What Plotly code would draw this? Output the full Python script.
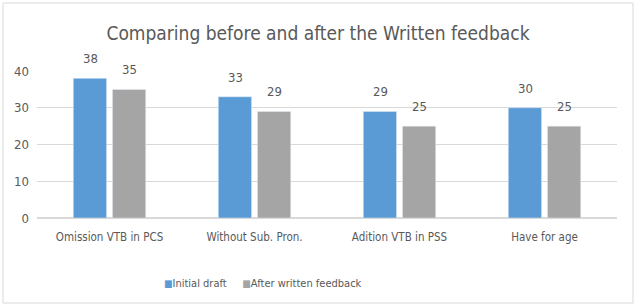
import plotly.graph_objects as go

categories = ["Omission VTB in PCS", "Without Sub. Pron.", "Adition VTB in PSS", "Have for age"]
initial_draft = [38, 33, 29, 30]
after_feedback = [35, 29, 25, 25]
series_names = ["Initial draft", "After written feedback"]
series_colors = ["#5B9BD5", "#A5A5A5"]

FONT = "DejaVu Sans Condensed, Liberation Sans Narrow, sans-serif"
TXT = "#595959"

fig = go.Figure()
for name, vals, col in zip(series_names, (initial_draft, after_feedback), series_colors):
    fig.add_trace(go.Bar(name=name, x=categories, y=vals, marker_color=col, showlegend=False))

for vals, shift in ((initial_draft, -19.5), (after_feedback, 19.5)):
    for c, v in zip(categories, vals):
        fig.add_annotation(x=c, y=v, xshift=shift, yshift=10, text=str(v),
                           showarrow=False, yanchor="bottom",
                           font=dict(size=13, color=TXT, family=FONT))

pl, pr, pt, pb = 37, 617, 71, 218
W, H = 637, 308
pw, ph = pr - pl, pb - pt

def px(x):
    return (x - pl) / pw

def py(y):
    return (pb - y) / ph

legend_text = "&nbsp;&nbsp;&nbsp;&nbsp;&nbsp;".join(
    f"<span style='color:{c};font-size:10px'>■</span>{n}" for n, c in zip(series_names, series_colors))
fig.add_annotation(xref="paper", yref="paper", x=px(263), y=py(283), text=legend_text,
                   showarrow=False, xanchor="center", yanchor="middle",
                   font=dict(size=11, color=TXT, family=FONT))

fig.update_layout(
    width=W, height=H,
    margin=dict(l=pl, r=W - pr, t=pt, b=H - pb),
    paper_bgcolor="white", plot_bgcolor="white",
    font=dict(family=FONT, color=TXT, size=13),
    title=dict(text="Comparing before and after the Written feedback",
               xref="container", x=318 / W, xanchor="center", y=1 - 33 / H, yanchor="middle",
               font=dict(size=19, color=TXT, family=FONT)),
    barmode="group", bargap=0.46, bargroupgap=0.15,
    showlegend=False,
)
fig.update_xaxes(showgrid=False, showline=True, linecolor="#D9D9D9", ticks="",
                 tickfont=dict(size=11.5, color=TXT), ticklabelstandoff=8)
fig.update_yaxes(range=[0, 40], dtick=10, showgrid=True, gridcolor="#D9D9D9",
                 zeroline=True, zerolinecolor="#D9D9D9", ticks="", showline=False,
                 tickfont=dict(size=13, color=TXT), ticklabelstandoff=7)
fig.add_shape(type="rect", xref="paper", yref="paper",
              x0=px(3), x1=px(633), y0=py(303), y1=py(3),
              line=dict(color="#D9D9D9", width=1), fillcolor="rgba(0,0,0,0)", layer="below")

fig.write_html("out.html")
